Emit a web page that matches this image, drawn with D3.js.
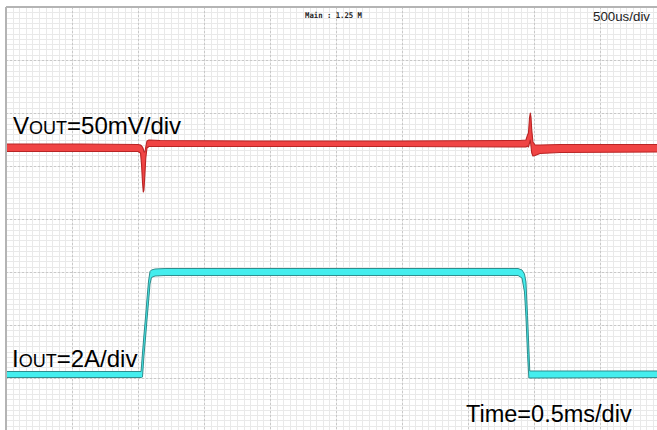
<!DOCTYPE html>
<html>
<head>
<meta charset="utf-8">
<script src="https://cdn.jsdelivr.net/npm/d3@7"></script>
<style>
  html, body { margin: 0; padding: 0; background: #fff; }
  svg { display: block; }
</style>
</head>
<body>
<svg id="chart" width="657" height="430"></svg>
<script>
// ---- Data (read from the scope capture) ----
// Time axis: 0.5 ms/div, 10 divisions
const timeDivs = 10;
const msPerDiv = 0.5;
// Vertical: 8 divisions
const vertDivs = 8;

// VOUT trace (50 mV/div): persistence band, upper / lower envelope in mV around nominal
const voutTimeMs = [0, 0.561, 1.0, 1.019, 1.027, 1.034, 1.040, 1.045, 1.052, 1.059, 1.068, 1.083, 1.167, 1.848, 2.985, 3.894, 3.939, 3.951, 3.958, 3.966, 3.972, 3.977, 3.983, 3.992, 4.008, 4.045, 4.197, 5.0];
const voutUpperMv = [2.83, 2.83, 2.36, 1.89, 0.94, 0.0, -1.89, -4.72, -4.72, 0.0, 5.66, 6.60, 6.13, 5.66, 5.66, 6.13, 6.60, 11.32, 13.21, 27.36, 32.08, 28.30, 16.04, 4.72, 1.89, 1.89, 2.36, 2.36];
const voutLowerMv = [-4.25, -4.25, -4.25, -5.66, -16.98, -33.0, -42.45, -40.57, -26.42, -10.38, -0.94, 0.47, 0.47, 0.47, 0.47, 0.0, 0.0, 0.94, 0.0, 3.77, 6.60, 0.94, -5.66, -8.49, -8.02, -6.13, -5.19, -4.72];
const voutMvPerDiv = 50;
const voutOffsetDiv = 1.3585;

// IOUT trace (2 A/div): upper / lower envelope in A
const ioutTimeMs = [0, 1.023, 1.027, 1.034, 1.045, 1.057, 1.068, 1.080, 1.091, 1.102, 1.129, 1.205, 2.227, 3.818, 3.879, 3.909, 3.928, 3.939, 3.951, 3.961, 3.968, 4.0, 5.0];
const ioutUpperA = [0.094, 0.094, 0.340, 0.792, 1.472, 2.151, 2.830, 3.509, 3.868, 3.925, 3.962, 3.981, 3.981, 3.981, 3.981, 3.925, 3.774, 3.472, 2.208, 0.981, 0.113, 0.113, 0.113];
const ioutLowerA = [-0.132, -0.132, -0.132, -0.113, 0.679, 1.358, 2.038, 2.717, 3.396, 3.642, 3.698, 3.717, 3.717, 3.717, 3.717, 3.623, 3.094, 2.151, 0.736, -0.151, -0.151, -0.151, -0.132];
const ioutAPerDiv = 2;
const ioutOffsetDiv = -2.9245;

// Text labels
const labelVout = ["V", "OUT", "=50mV/div"];
const labelIout = ["I", "OUT", "=2A/div"];
const labelTime = "Time=0.5ms/div";
const labelMain = "Main : 1.25 M";
const labelTimebase = "500us/div";

// ---- Drawing ----
const W = 657, H = 430;
const svg = d3.select("#chart");
const plotLeft = 6, plotTop = 7, divW = 66, divH = 53;

const x = d3.scaleLinear().domain([0, timeDivs * msPerDiv]).range([plotLeft, plotLeft + timeDivs * divW]);
const y = d3.scaleLinear().domain([-vertDivs / 2, vertDivs / 2]).range([plotTop + vertDivs * divH, plotTop]);

svg.append("rect").attr("width", W).attr("height", H).attr("fill", "#fff");

svg.append("clipPath").attr("id", "plotclip")
  .append("rect").attr("x", plotLeft).attr("y", plotTop).attr("width", W - plotLeft).attr("height", H - plotTop);

const g = svg.append("g").attr("clip-path", "url(#plotclip)");

// minor grid
const minorX = d3.range(0, timeDivs * 10 + 1).map(i => i * msPerDiv / 10);
const minorY = d3.range(0, vertDivs * 10 + 1).map(i => -vertDivs / 2 + i / 10);
g.selectAll("line.mx").data(minorX).join("line")
  .attr("x1", d => Math.round(x(d)) + 0.5).attr("x2", d => Math.round(x(d)) + 0.5)
  .attr("y1", plotTop).attr("y2", H)
  .attr("stroke", "#e9e9e9").attr("stroke-width", 1);
g.selectAll("line.my").data(minorY).join("line")
  .attr("y1", d => Math.round(y(d)) + 0.5).attr("y2", d => Math.round(y(d)) + 0.5)
  .attr("x1", plotLeft).attr("x2", W)
  .attr("stroke", "#e9e9e9").attr("stroke-width", 1);

// major grid (dotted)
const majorX = d3.range(0, timeDivs + 1).map(i => i * msPerDiv);
const majorY = d3.range(-vertDivs / 2, vertDivs / 2 + 1);
g.selectAll("line.Mx").data(majorX).join("line")
  .attr("x1", d => Math.round(x(d)) + 0.5).attr("x2", d => Math.round(x(d)) + 0.5)
  .attr("y1", plotTop).attr("y2", H)
  .attr("stroke", "#c8c8c8").attr("stroke-width", 1).attr("stroke-dasharray", "2,2");
g.selectAll("line.My").data(majorY).join("line")
  .attr("y1", d => Math.round(y(d)) + 0.5).attr("y2", d => Math.round(y(d)) + 0.5)
  .attr("x1", plotLeft).attr("x2", W)
  .attr("stroke", "#c8c8c8").attr("stroke-width", 1).attr("stroke-dasharray", "2,2");

// borders (top and left)
svg.append("line").attr("x1", plotLeft).attr("x2", W).attr("y1", plotTop).attr("y2", plotTop)
  .attr("stroke", "#b4b4b4").attr("stroke-width", 2);
svg.append("line").attr("x1", plotLeft).attr("x2", plotLeft).attr("y1", plotTop).attr("y2", H)
  .attr("stroke", "#b4b4b4").attr("stroke-width", 2);

// traces as envelope bands
const line = d3.line().x(d => x(d.t)).y(d => y(d.v));
function band(times, upper, lower, toDiv) {
  const up = times.map((t, i) => ({ t, v: toDiv(upper[i]) }));
  const lo = times.map((t, i) => ({ t, v: toDiv(lower[i]) })).reverse();
  return line(up.concat(lo)) + "Z";
}
const voutToDiv = v => voutOffsetDiv + v / voutMvPerDiv;
const ioutToDiv = a => ioutOffsetDiv + a / ioutAPerDiv;

g.append("path")
  .attr("d", band(voutTimeMs, voutUpperMv, voutLowerMv, voutToDiv))
  .attr("fill", "#f04444").attr("stroke", "#b82424").attr("stroke-width", 1.1)
  .attr("stroke-linejoin", "round");

g.append("path")
  .attr("d", band(ioutTimeMs, ioutUpperA, ioutLowerA, ioutToDiv))
  .attr("fill", "#44eeee").attr("stroke", "#2f8c8c").attr("stroke-width", 1)
  .attr("stroke-linejoin", "round");

// labels
const font = "'Liberation Sans', Arial, sans-serif";
const tv = svg.append("text").attr("x", 13).attr("y", 134)
  .attr("font-family", font).attr("font-size", 24).attr("fill", "#000");
tv.append("tspan").text(labelVout[0]);
tv.append("tspan").attr("font-size", 18).text(labelVout[1]);
tv.append("tspan").text(labelVout[2]);

const ti = svg.append("text").attr("x", 12).attr("y", 367)
  .attr("font-family", font).attr("font-size", 24).attr("fill", "#000");
ti.append("tspan").text(labelIout[0]);
ti.append("tspan").attr("font-size", 18).text(labelIout[1]);
ti.append("tspan").text(labelIout[2]);

svg.append("text").attr("x", 466).attr("y", 422)
  .attr("font-family", font).attr("font-size", 23.5).attr("fill", "#000")
  .text(labelTime);

svg.append("text").attr("x", 305).attr("y", 18)
  .attr("font-family", "'DejaVu Sans Mono', monospace").attr("font-weight", "bold")
  .attr("font-size", 7.8).attr("fill", "#222")
  .attr("textLength", 57).attr("lengthAdjust", "spacingAndGlyphs")
  .text(labelMain);

svg.append("text").attr("x", 650).attr("y", 21).attr("text-anchor", "end")
  .attr("font-family", font).attr("font-size", 13).attr("fill", "#222")
  .attr("textLength", 57).attr("lengthAdjust", "spacingAndGlyphs")
  .text(labelTimebase);
</script>
</body>
</html>
